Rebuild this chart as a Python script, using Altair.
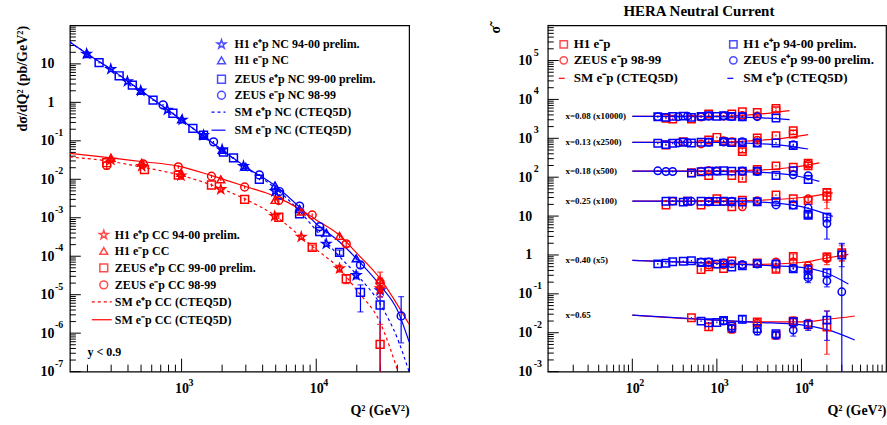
import altair as alt
import pandas as pd

FONT = "Liberation Serif"
RED = "#ff0000"
BLUE = "#0000ff"
STAR = ("M0,-1L0.2245,-0.309L0.951,-0.309L0.363,0.118L0.588,0.809L0,0.382"
        "L-0.588,0.809L-0.363,0.118L-0.951,-0.309L-0.2245,-0.309Z")

LW, LH = 340, 347
RW, RH = 339, 347

# ======================= LEFT PANEL (d sigma / d Q2) =======================
LEFT_X_DOMAIN = [148, 48900]
LEFT_Y_DOMAIN = [1e-7, 100]
LEFT_X_LABEL_VALUES = [1000, 10000]
LEFT_X_BASE = ["10", "10"]
LEFT_X_EXP = ["3", "4"]
LEFT_Y_LABEL_VALUES = [1e-7, 1e-6, 1e-5, 1e-4, 1e-3, 1e-2, 1e-1, 1, 10]
LEFT_Y_BASE = ["10", "10", "10", "10", "10", "10", "10", "1", "10"]
LEFT_Y_EXP = ["-7", "-6", "-5", "-4", "-3", "-2", "-1", "", ""]

# (Q2, value[, rel err | rel err low, rel err high])
NC_H1_EP = [(197, 18.2), (298, 7.3), (396, 3.5), (497, 2.0), (784, 0.64), (1011, 0.35),
            (1456, 0.14), (2000, 0.059), (2880, 0.022), (4940, 0.0049), (11860, 2.1e-4),
            (19800, 3.2e-5, 0.2), (29800, 1.3e-5, 0.3)]
NC_H1_EM = [(200, 18.0), (500, 2.0), (1000, 0.36), (1456, 0.14), (2000, 0.058), (3000, 0.021),
            (4940, 0.0069), (7520, 0.0017), (11860, 4.1e-4), (19800, 8.8e-5, 0.12)]
NC_ZEUS_EP = [(244, 10.8), (344, 4.9), (431, 2.8), (614, 1.14), (862, 0.52), (1213, 0.21),
              (1456, 0.14), (2047, 0.051), (2430, 0.036), (3780, 0.010), (5330, 0.0039),
              (7520, 0.00126), (10600, 4.4e-4), (14900, 1.26e-4, 0.15),
              (21300, 1.15e-5, 0.69, 0.57), (29800, 5.4e-6, 1.0, 0.6)]
NC_ZEUS_EM = [(728, 0.86), (1727, 0.094), (3780, 0.013), (5330, 0.0048), (7520, 0.0020),
              (10600, 5.9e-4), (21300, 5.9e-5, 0.15), (42700, 2.8e-6, 0.8, 2.2)]

CC_H1_EP = [(299, 0.032), (506, 0.022), (990, 0.0125), (1955, 0.0055), (4910, 0.0011),
            (7740, 3.2e-4, 0.12), (14900, 4.8e-5, 0.2), (29800, 1.45e-5, 0.4)]
CC_H1_EM = [(299, 0.036), (506, 0.027), (990, 0.0148), (1955, 0.010), (4940, 0.0029),
            (7740, 0.00145), (14900, 3.4e-4, 0.12), (29800, 2.4e-5, 0.55, 0.6)]
CC_ZEUS_EP = [(278, 0.027), (530, 0.018), (945, 0.0128), (1667, 0.0071), (2940, 0.0030),
              (5270, 0.00103), (9330, 1.7e-4, 0.15), (16700, 2.6e-5, 0.25),
              (29800, 5.1e-7, 1.0, 2.3)]
CC_ZEUS_EM = [(278, 0.023, 0.2), (520, 0.025), (945, 0.021), (1667, 0.012), (2940, 0.0063),
              (5270, 0.0028), (9330, 0.00118), (16700, 2.1e-4, 0.15), (29800, 2.1e-5, 0.3)]

# SM curves
NC_EM_CURVE = [(148, 37), (200, 18), (300, 7.2), (500, 2.0), (1000, 0.35), (2000, 0.058),
               (3000, 0.021), (5000, 0.0066), (7500, 0.0019), (10000, 7.0e-4), (15000, 2.3e-4),
               (20000, 8.5e-5), (30000, 1.7e-5), (40000, 4.0e-6), (48900, 6.0e-7)]
NC_EP_CURVE = [(148, 37), (200, 18), (300, 7.2), (500, 2.0), (1000, 0.35), (2000, 0.057),
               (3000, 0.020), (5000, 0.0058), (7500, 0.0015), (10000, 4.7e-4), (15000, 9.5e-5),
               (20000, 3.3e-5), (30000, 5.5e-6), (40000, 7.4e-7), (48900, 1.0e-7)]
CC_EM_CURVE = [(148, 0.047), (300, 0.036), (500, 0.029), (945, 0.022), (1667, 0.0125),
               (2940, 0.0066), (4940, 0.0036), (7740, 0.0016), (10000, 8.8e-4), (14900, 3.5e-4),
               (20000, 1.2e-4), (29800, 2.6e-5), (40000, 5.5e-6), (48900, 1.7e-6)]
CC_EP_CURVE = [(148, 0.038), (300, 0.029), (500, 0.021), (1000, 0.0125), (2000, 0.0056),
               (3000, 0.0030), (5000, 0.0011), (7700, 3.2e-4), (10000, 1.5e-4), (15000, 4.6e-5),
               (20000, 1.3e-5), (29800, 1.9e-6), (40400, 1.0e-7)]

LEFT_LEGEND_NC = ["H1 e⁺p NC 94-00 prelim.", "H1 e⁻p NC", "ZEUS e⁺p NC 99-00 prelim.",
                  "ZEUS e⁻p NC 98-99", "SM e⁺p NC (CTEQ5D)", "SM e⁻p NC (CTEQ5D)"]
LEFT_LEGEND_CC = ["H1 e⁺p CC 94-00 prelim.", "H1 e⁻p CC", "ZEUS e⁺p CC 99-00 prelim.",
                  "ZEUS e⁻p CC 98-99", "SM e⁺p CC (CTEQ5D)", "SM e⁻p CC (CTEQ5D)"]
LEFT_Y_TITLE = "dσ/dQ² (pb/GeV²)"
X_TITLE = "Q² (GeV²)"
CUT_TEXT = "y < 0.9"
CUT_POS = (200, 3.3e-7)

# ======================= RIGHT PANEL (reduced cross section) =======================
RIGHT_X_DOMAIN = [10, 1e5]
RIGHT_Y_DOMAIN = [1e-3, 8e5]
RIGHT_X_LABEL_VALUES = [100, 1000, 10000]
RIGHT_X_BASE = ["10", "10", "10"]
RIGHT_X_EXP = ["2", "3", "4"]
RIGHT_Y_LABEL_VALUES = [1e-3, 1e-2, 1e-1, 1, 10, 100, 1e3, 1e4, 1e5]
RIGHT_Y_BASE = ["10", "10", "10", "1", "10", "10", "10", "10", "10"]
RIGHT_Y_EXP = ["-3", "-2", "-1", "", "", "2", "3", "4", "5"]
RIGHT_Y_TITLE = "σ̃"

XBIN_LABELS = ["x=0.08 (x10000)", "x=0.13 (x2500)", "x=0.18 (x500)", "x=0.25 (x100)",
               "x=0.40 (x5)", "x=0.65"]
XBIN_LABEL_Q2 = 16.2
XBIN_LEVEL = [3660, 790, 143, 24.3, 0.73, 0.0284]

H1_EM_008 = [(250, 3250), (300, 3120), (500, 3120), (800, 4210), (1500, 4210), (2000, 4830),
             (3000, 4640), (5000, 5900), (5000, 5130)]
ZEUS_EM_008 = [(650, 3520), (1200, 3700), (2000, 3900), (3000, 3750)]
H1_EP_008 = [(200, 3590), (250, 3450), (300, 3660), (400, 3730), (500, 3450), (650, 3660),
             (800, 3810), (1000, 3660), (1200, 3810), (1500, 3660), (2000, 3590), (5000, 3320)]
ZEUS_EP_008 = [(200, 3600), (350, 3590), (450, 3730), (650, 3660), (800, 3700), (1200, 3780),
               (1500, 3600), (2000, 3590), (3000, 3590)]

H1_EM_013 = [(250, 673), (400, 822), (800, 908), (1000, 1060), (1500, 790), (2000, 533),
             (2000, 455), (3000, 1020), (5000, 1170), (8000, 1560), (8000, 1290)]
ZEUS_EM_013 = [(650, 717), (1200, 870), (1500, 820), (3000, 900)]
H1_EP_013 = [(200, 744), (250, 687), (300, 744), (400, 790), (500, 760), (650, 790), (800, 800),
             (1200, 822), (1500, 780), (2000, 775), (3000, 760), (5000, 760), (8000, 655)]
ZEUS_EP_013 = [(350, 760), (450, 770), (800, 790), (1200, 800), (2000, 820), (3000, 770),
               (8000, 690)]

H1_EM_018 = [(500, 130), (800, 111), (1500, 111), (2000, 94, 0.1), (3000, 158), (5000, 196),
             (8000, 180), (12000, 230), (12000, 196)]
ZEUS_EM_018 = [(650, 143), (800, 150), (1000, 143), (2000, 140), (3000, 145), (12000, 215)]
H1_EP_018 = [(500, 127), (650, 138), (800, 143), (1000, 143), (1200, 147), (1500, 143),
             (2000, 143), (3000, 143), (5000, 111), (8000, 147), (12000, 87)]
ZEUS_EP_018 = [(200, 146), (250, 140), (300, 140), (1000, 145), (2000, 145), (3000, 140),
               (8000, 115), (12000, 110)]

H1_EM_025 = [(250, 19.3), (450, 24.0), (650, 19.3), (1000, 27.8), (1500, 17.3), (2000, 25.5),
             (5000, 34.8), (8000, 27.8), (12000, 25), (20000, 40.6, 0.62, 0.2), (20000, 32.4, 0.3)]
ZEUS_EM_025 = [(300, 24.3), (800, 23), (1200, 23.5), (2000, 17.3, 0.12), (3000, 25), (12000, 27.8)]
H1_EP_025 = [(250, 24), (300, 24.3), (400, 22.8), (450, 24.3), (650, 24), (800, 23.8),
             (1000, 23.8), (1200, 24), (1500, 23.4), (2000, 22.8), (3000, 23.4), (5000, 23.4),
             (8000, 19.3), (12000, 11.1, 0.15), (12000, 10.4, 0.15), (20000, 9.4, 0.25)]
ZEUS_EP_025 = [(500, 24), (800, 24), (1500, 24), (3000, 23.4), (5000, 19.3), (8000, 19.3),
               (12000, 16.1), (20000, 6.4, 0.6, 0.45)]

H1_EM_040 = [(650, 0.42, 0.12), (800, 0.50), (1200, 0.45), (1500, 0.70), (3000, 0.62),
             (5000, 0.43, 0.15), (8000, 0.92, 0.15), (12000, 0.45, 0.25), (20000, 0.89, 0.25),
             (30000, 1.15, 0.4, 0.5)]
ZEUS_EM_040 = [(800, 0.55), (1000, 0.58), (1200, 0.56), (2000, 0.56), (5000, 0.66),
               (8000, 0.66), (12000, 0.53), (20000, 0.81, 0.3), (30000, 1.02, 0.3)]
H1_EP_040 = [(200, 0.59), (250, 0.61), (300, 0.67), (400, 0.69), (500, 0.71), (650, 0.64),
             (800, 0.65), (1000, 0.58), (1200, 0.61), (1500, 0.49), (2000, 0.53), (3000, 0.60),
             (5000, 0.58), (8000, 0.44), (12000, 0.31, 0.2), (20000, 0.35, 0.2),
             (30000, 1.0, 0.5, 1.0)]
ZEUS_EP_040 = [(650, 0.66), (800, 0.66), (1200, 0.62), (1500, 0.59), (2000, 0.56), (3000, 0.58),
               (5000, 0.60), (8000, 0.46), (12000, 0.44, 0.15), (12000, 0.26, 0.25),
               (20000, 0.215, 0.3), (30000, 0.113, 1.0, 16.0)]

H1_EM_065 = [(500, 0.0242), (800, 0.0143, 0.2), (1500, 0.0129, 0.25), (3000, 0.019, 0.2),
             (5000, 0.0087, 0.2), (8000, 0.0197, 0.3), (20000, 0.0140, 0.8, 1.6)]
ZEUS_EM_065 = [(1500, 0.0150), (3000, 0.0175), (8000, 0.019, 0.3), (12000, 0.0170, 0.3)]
H1_EP_065 = [(650, 0.0199), (800, 0.0180), (1000, 0.0184), (1200, 0.0207, 0.2),
             (1500, 0.0148), (2000, 0.0223, 0.2), (3000, 0.0129), (5000, 0.0094),
             (8000, 0.0191, 0.25), (12000, 0.0163, 0.3), (20000, 0.0211, 0.7, 0.7)]
ZEUS_EP_065 = [(1200, 0.0200), (1500, 0.0129, 0.2), (3000, 0.0110, 0.2), (5000, 0.0087, 0.2),
               (8000, 0.0117, 0.3)]

RED_CURVES = [
    [(100, 3660), (1000, 3700), (2000, 3900), (4000, 4400), (7240, 5130)],
    [(100, 790), (1000, 800), (3000, 880), (6000, 1000), (12000, 1245)],
    [(100, 143), (1000, 145), (3000, 152), (8000, 180), (16300, 233)],
    [(100, 24.3), (1000, 24.5), (3000, 25.5), (10000, 30), (23500, 39.6)],
    [(100, 0.73), (1000, 0.62), (3000, 0.57), (10000, 0.64), (18000, 0.80), (35900, 1.04)],
    [(100, 0.0284), (1000, 0.021), (3000, 0.019), (10000, 0.019), (20000, 0.022), (42700, 0.027)],
]
BLUE_CURVES = [
    [(100, 3660), (1000, 3620), (2000, 3500), (4000, 3300), (7240, 3010)],
    [(100, 790), (1000, 780), (3000, 730), (6000, 660), (12000, 532)],
    [(100, 143), (1000, 141), (3000, 135), (8000, 112), (16300, 78)],
    [(100, 24.3), (1000, 24), (3000, 23), (10000, 17.5), (23500, 9.8)],
    [(100, 0.73), (1000, 0.61), (3000, 0.55), (10000, 0.48), (18000, 0.37), (35900, 0.18)],
    [(100, 0.0284), (1000, 0.021), (3000, 0.0185), (10000, 0.016), (20000, 0.012), (42700, 0.0065)],
]

RIGHT_LEGEND_EM = ["H1 e⁻p", "ZEUS e⁻p 98-99", "SM e⁻p (CTEQ5D)"]
RIGHT_LEGEND_EP = ["H1 e⁺p 94-00 prelim.", "ZEUS e⁺p 99-00 prelim.", "SM e⁺p (CTEQ5D)"]
TITLE = "HERA Neutral Current"

ONE = pd.DataFrame({"k": [0]})


# ----------------------------------------------------------------------------
def points_df(rows, default_err):
    recs = []
    for r in rows:
        q, v = r[0], r[1]
        if len(r) == 2:
            elo = ehi = default_err
        elif len(r) == 3:
            elo = ehi = r[2]
        else:
            elo, ehi = r[2], r[3]
        lo = v * (1 - elo) if elo < 1 else 1e-12
        recs.append({"q2": q, "v": v, "lo": lo, "hi": v * (1 + ehi),
                     "cap": (elo >= 0.15) or (ehi >= 0.15)})
    return pd.DataFrame(recs)


def curve_df(rows):
    return pd.DataFrame({"q2": [r[0] for r in rows], "v": [r[1] for r in rows]})


def lookup_expr(values, texts):
    expr = "''"
    for v, t in zip(values, texts):
        expr = f"abs(log(datum.value)/LN10 - ({__import__('math').log10(v):.4f})) < 0.01 ? '{t}' : " + expr
    return expr


def make_enc(xdom, ydom, xvals, xbase, yvals, ybase, ytitle, ytitle_x):
    xaxis = alt.Axis(values=xvals, labelExpr=lookup_expr(xvals, xbase), title=X_TITLE,
                     titleAnchor="end", titlePadding=8, labelPadding=10, labelOverlap=False,
                     labelFlush=False)
    yaxis = alt.Axis(values=yvals, labelExpr=lookup_expr(yvals, ybase), title=ytitle,
                     titleX=ytitle_x, titleY=0, titleAlign="right", titleBaseline="bottom",
                     titleAngle=270, labelPadding=16, labelOverlap=False)
    xs = alt.Scale(type="log", domain=xdom, nice=False)
    ys = alt.Scale(type="log", domain=ydom, nice=False)

    def X(f):
        return alt.X(f"{f}:Q", scale=xs, axis=xaxis)

    def Y(f):
        return alt.Y(f"{f}:Q", scale=ys, axis=yaxis)

    def Y2(f):
        return alt.Y2(f"{f}:Q")
    return X, Y, Y2


def exponent_layers(xvals, xexp, yvals, yexp, X, Y, H, ex_x):
    out = []
    dfx = pd.DataFrame({"q2": xvals, "t": xexp})
    out.append(alt.Chart(dfx).mark_text(align="left", baseline="middle", font=FONT, fontSize=10,
                                        fontWeight="bold", color="black", dx=7)
               .encode(x=X("q2"), y=alt.value(H + 11), text="t:N"))
    dfy = pd.DataFrame({"v": yvals, "t": yexp})
    dfy = dfy[dfy["t"] != ""]
    out.append(alt.Chart(dfy).mark_text(align="left", baseline="middle", font=FONT, fontSize=10,
                                        fontWeight="bold", color="black", dy=-8)
               .encode(y=Y("v"), x=alt.value(ex_x), text="t:N"))
    return out


def series_layers(rows, shape, color, X, Y, Y2, default_err, size=60):
    df = points_df(rows, default_err)
    layers = [alt.Chart(df).mark_rule(color=color, strokeWidth=1.2, clip=True).encode(
        x=X("q2"), y=Y("lo"), y2=Y2("hi"))]
    caps = df[df["cap"]]
    if len(caps):
        for f in ("lo", "hi"):
            layers.append(alt.Chart(caps).mark_tick(color=color, orient="horizontal", size=6,
                                                    thickness=1.2, clip=True).encode(
                x=X("q2"), y=Y(f)))
    layers.append(alt.Chart(df).mark_point(shape=shape, color=color, filled=False, size=size,
                                           strokeWidth=1.5, opacity=1).encode(
        x=X("q2"), y=Y("v")))
    return layers


def curve_layer(rows, color, X, Y, dash=None, width=1.2):
    kw = dict(color=color, strokeWidth=width, interpolate="monotone", clip=True)
    if dash:
        kw["strokeDash"] = dash
    return alt.Chart(curve_df(rows)).mark_line(**kw).encode(x=X("q2"), y=Y("v"))


def tick_layers(xmaj, xmin, ymaj, ymin, X, Y, H):
    out = []
    for vals, ln in ((ymaj, 11), (ymin, 6)):
        out.append(alt.Chart(pd.DataFrame({"v": vals})).mark_rule(color="black", strokeWidth=1).encode(
            y=Y("v"), x=alt.value(0), x2=alt.value(ln)))
    for vals, ln in ((xmaj, 13), (xmin, 7)):
        out.append(alt.Chart(pd.DataFrame({"q2": vals})).mark_rule(color="black", strokeWidth=1).encode(
            x=X("q2"), y=alt.value(H), y2=alt.value(H - ln)))
    return out


def legend_entry(sx, tx, y, text, color, shape=None, dash=None, line=None, fs=12, size=60):
    out = []
    if shape is not None:
        out.append(alt.Chart(ONE).mark_point(shape=shape, color=color, filled=False, size=size,
                                             strokeWidth=1.5).encode(x=alt.value(sx), y=alt.value(y)))
    if line is not None:
        kw = dict(color=color, strokeWidth=1.2)
        if dash:
            kw["strokeDash"] = dash
        out.append(alt.Chart(ONE).mark_rule(**kw).encode(
            x=alt.value(line[0]), x2=alt.value(line[1]), y=alt.value(y)))
    out.append(alt.Chart(ONE).mark_text(text=text, align="left", baseline="middle", font=FONT,
                                        fontSize=fs, fontWeight="bold", color="black").encode(
        x=alt.value(tx), y=alt.value(y)))
    return out


def minor_ticks(lo_exp, hi_exp, lo, hi):
    return [k * 10.0 ** n for n in range(lo_exp, hi_exp + 1) for k in range(2, 10)
            if lo <= k * 10.0 ** n <= hi]


# ------------------------------- LEFT ---------------------------------------
LX, LY, LY2 = make_enc(LEFT_X_DOMAIN, LEFT_Y_DOMAIN, LEFT_X_LABEL_VALUES, LEFT_X_BASE,
                       LEFT_Y_LABEL_VALUES, LEFT_Y_BASE, LEFT_Y_TITLE, -40)

left_layers = []
left_layers.append(alt.Chart(ONE).mark_point(size=1, opacity=0).encode(
    x=alt.value(-68), y=alt.value(-23)))
left_layers += tick_layers([1000, 10000], minor_ticks(2, 4, 148, 48900),
                           LEFT_Y_LABEL_VALUES, minor_ticks(-7, 1, 1e-7, 100), LX, LY, LH)
left_layers += exponent_layers(LEFT_X_LABEL_VALUES, LEFT_X_EXP, LEFT_Y_LABEL_VALUES, LEFT_Y_EXP,
                               LX, LY, LH, -15)
left_layers.append(curve_layer(NC_EP_CURVE, BLUE, LX, LY, dash=[3, 3]))
left_layers.append(curve_layer(NC_EM_CURVE, BLUE, LX, LY))
left_layers.append(curve_layer(CC_EP_CURVE, RED, LX, LY, dash=[3, 3]))
left_layers.append(curve_layer(CC_EM_CURVE, RED, LX, LY))
for rows, shape, color, e in [
        (NC_ZEUS_EP, "square", BLUE, 0.05), (NC_ZEUS_EM, "circle", BLUE, 0.05),
        (NC_H1_EM, "triangle-up", BLUE, 0.05), (NC_H1_EP, STAR, BLUE, 0.05),
        (CC_ZEUS_EP, "square", RED, 0.1), (CC_ZEUS_EM, "circle", RED, 0.1),
        (CC_H1_EM, "triangle-up", RED, 0.1), (CC_H1_EP, STAR, RED, 0.1)]:
    left_layers += series_layers(rows, shape, color, LX, LY, LY2, e,
                                 size=85 if shape == STAR else 62)

LEG_SHAPES = [STAR, "triangle-up", "square", "circle", None, None]
LEG_DASH = [None, None, None, None, [3, 3], None]
NC_ROWS = [19, 35, 54, 70, 87, 105]
CC_ROWS = [210, 226, 243, 260, 277, 295]
for i, txt in enumerate(LEFT_LEGEND_NC):
    left_layers += legend_entry(152, 165, NC_ROWS[i], txt, BLUE, shape=LEG_SHAPES[i],
                                dash=LEG_DASH[i], line=(142, 156) if LEG_SHAPES[i] is None else None,
                                size=85 if LEG_SHAPES[i] == STAR else 62)
for i, txt in enumerate(LEFT_LEGEND_CC):
    left_layers += legend_entry(34, 45, CC_ROWS[i], txt, RED, shape=LEG_SHAPES[i],
                                dash=LEG_DASH[i], line=(22, 42) if LEG_SHAPES[i] is None else None,
                                size=85 if LEG_SHAPES[i] == STAR else 62)
left_layers.append(alt.Chart(pd.DataFrame({"q2": [CUT_POS[0]], "v": [CUT_POS[1]], "t": [CUT_TEXT]}))
                   .mark_text(align="left", baseline="middle", font=FONT, fontSize=12,
                              fontWeight="bold", color="black")
                   .encode(x=LX("q2"), y=LY("v"), text="t:N"))

left = alt.layer(*left_layers).properties(width=LW, height=LH)

# ------------------------------- RIGHT --------------------------------------
RX, RY, RY2 = make_enc(RIGHT_X_DOMAIN, RIGHT_Y_DOMAIN, RIGHT_X_LABEL_VALUES, RIGHT_X_BASE,
                       RIGHT_Y_LABEL_VALUES, RIGHT_Y_BASE, RIGHT_Y_TITLE, -45)

right_layers = []
right_layers += tick_layers([100, 1000, 10000], minor_ticks(1, 4, 10, 1e5),
                            RIGHT_Y_LABEL_VALUES, minor_ticks(-3, 5, 1e-3, 8e5), RX, RY, RH)
right_layers += exponent_layers(RIGHT_X_LABEL_VALUES, RIGHT_X_EXP, RIGHT_Y_LABEL_VALUES,
                                RIGHT_Y_EXP, RX, RY, RH, -14)
for c in RED_CURVES:
    right_layers.append(curve_layer(c, RED, RX, RY))
for c in BLUE_CURVES:
    right_layers.append(curve_layer(c, BLUE, RX, RY))

H1_EM_ALL = [H1_EM_008, H1_EM_013, H1_EM_018, H1_EM_025, H1_EM_040, H1_EM_065]
ZEUS_EM_ALL = [ZEUS_EM_008, ZEUS_EM_013, ZEUS_EM_018, ZEUS_EM_025, ZEUS_EM_040, ZEUS_EM_065]
H1_EP_ALL = [H1_EP_008, H1_EP_013, H1_EP_018, H1_EP_025, H1_EP_040, H1_EP_065]
ZEUS_EP_ALL = [ZEUS_EP_008, ZEUS_EP_013, ZEUS_EP_018, ZEUS_EP_025, ZEUS_EP_040, ZEUS_EP_065]
for i in range(6):
    right_layers += series_layers(H1_EM_ALL[i], "square", RED, RX, RY, RY2, 0.05, size=55)
    right_layers += series_layers(ZEUS_EM_ALL[i], "circle", RED, RX, RY, RY2, 0.05, size=55)
    right_layers += series_layers(H1_EP_ALL[i], "square", BLUE, RX, RY, RY2, 0.05, size=55)
    right_layers += series_layers(ZEUS_EP_ALL[i], "circle", BLUE, RX, RY, RY2, 0.05, size=55)

right_layers.append(alt.Chart(pd.DataFrame({"q2": [XBIN_LABEL_Q2] * 6, "v": XBIN_LEVEL, "t": XBIN_LABELS}))
                    .mark_text(align="left", baseline="middle", font=FONT, fontSize=9,
                               fontWeight="bold", color="black")
                    .encode(x=RX("q2"), y=RY("v"), text="t:N"))

R_ROWS = [19, 35, 53]
R_SHAPES = ["square", "circle", None]
for i in range(3):
    right_layers += legend_entry(16, 26, R_ROWS[i], RIGHT_LEGEND_EM[i], RED, shape=R_SHAPES[i],
                                 line=(11, 17) if R_SHAPES[i] is None else None, fs=13, size=55)
    right_layers += legend_entry(186, 196, R_ROWS[i], RIGHT_LEGEND_EP[i], BLUE, shape=R_SHAPES[i],
                                 line=(180, 186) if R_SHAPES[i] is None else None, fs=13, size=55)

right = alt.layer(*right_layers).properties(
    width=RW, height=RH,
    title=alt.TitleParams(TITLE, font=FONT, fontSize=15, fontWeight="bold", anchor="middle",
                          dx=-18, offset=6, color="black"))

chart = (alt.hconcat(left, right, spacing=139, bounds="flush")
         .properties(padding={"left": 0, "top": 0, "right": 0, "bottom": 0})
         .configure_view(stroke="black", strokeWidth=1.2)
         .configure_axis(grid=False, ticks=False, domain=False, labelFont=FONT, labelFontSize=14,
                         labelFontWeight="bold", labelColor="black", titleFont=FONT,
                         titleFontSize=14, titleFontWeight="bold", titleColor="black"))

chart.save("out.html", embed_options={"renderer": "svg", "actions": False})
